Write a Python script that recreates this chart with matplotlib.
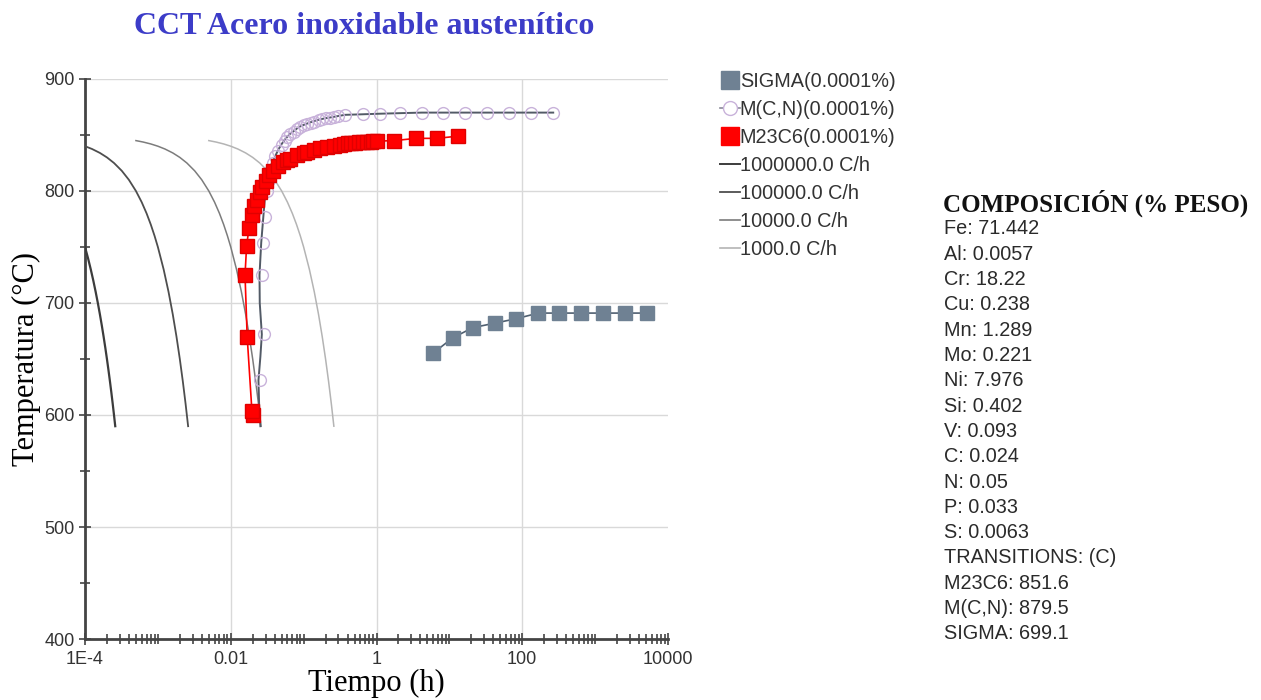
import matplotlib.pyplot as plt
from matplotlib.lines import Line2D
from matplotlib.ticker import FixedLocator, NullFormatter

# Curvas de enfriamiento (tiempo en h, temperatura en C)
t_1e6 = [1.0e-4, 1.1e-4, 1.2e-4, 1.3e-4, 1.4e-4, 1.5e-4, 1.6e-4, 1.7e-4, 1.8e-4,
         1.9e-4, 2.0e-4, 2.1e-4, 2.2e-4, 2.3e-4, 2.4e-4, 2.5e-4, 2.6e-4]
T_1e6 = [750, 740, 730, 720, 710, 700, 690, 680, 670, 660, 650, 640, 630, 620, 610, 600, 590]

t_1e5 = [1.0e-4, 1.25e-4, 1.6e-4, 2.0e-4, 2.5e-4, 3.2e-4, 4.0e-4, 5.0e-4, 6.0e-4, 7.0e-4,
         8.0e-4, 9.0e-4, 1.0e-3, 1.2e-3, 1.4e-3, 1.6e-3, 1.8e-3, 2.0e-3, 2.2e-3, 2.4e-3, 2.6e-3]
T_1e5 = [840, 837.5, 834, 830, 825, 818, 810, 800, 790, 780,
         770, 760, 750, 730, 710, 690, 670, 650, 630, 610, 590]

t_1e4 = [5.0e-4, 6.3e-4, 8.0e-4, 1.0e-3, 1.25e-3, 1.6e-3, 2.0e-3, 2.5e-3, 3.2e-3, 4.0e-3,
         5.0e-3, 6.0e-3, 7.0e-3, 8.0e-3, 9.0e-3, 0.010, 0.012, 0.014, 0.016, 0.018,
         0.020, 0.022, 0.024, 0.026]
T_1e4 = [845, 843.7, 842, 840, 837.5, 834, 830, 825, 818, 810,
         800, 790, 780, 770, 760, 750, 730, 710, 690, 670,
         650, 630, 610, 590]

t_1e3 = [5.0e-3, 6.3e-3, 8.0e-3, 0.010, 0.0125, 0.016, 0.020, 0.025, 0.032, 0.040,
         0.050, 0.060, 0.070, 0.080, 0.090, 0.10, 0.12, 0.14, 0.16, 0.18,
         0.20, 0.22, 0.24, 0.26]
T_1e3 = [845, 843.7, 842, 840, 837.5, 834, 830, 825, 818, 810,
         800, 790, 780, 770, 760, 750, 730, 710, 690, 670,
         650, 630, 610, 590]

# Inicio de precipitacion (0.0001 %)
t_mcn = [0.0255, 0.0245, 0.0240, 0.0255, 0.0267, 0.0250, 0.0248, 0.0262, 0.0280, 0.0300,
         0.032, 0.035, 0.040, 0.045, 0.050, 0.057, 0.065, 0.075, 0.085, 0.10,
         0.12, 0.14, 0.17, 0.20, 0.25, 0.30, 0.37, 0.65, 1.1, 2.1,
         4.2, 8.3, 16.5, 33, 66, 133, 266]
T_mcn = [590, 610, 631, 652, 672, 700, 725, 754, 777, 800,
         812, 822, 830, 837, 842, 847, 851, 854, 857, 859,
         861, 862.5, 864, 865, 866, 867, 868, 868.5, 869, 869.5,
         870, 870, 870, 870, 870, 870, 870]

t_mcn_pts = [0.0255, 0.029, 0.0265, 0.028, 0.0295, 0.031, 0.033, 0.035, 0.038, 0.041,
             0.045, 0.050, 0.055, 0.060, 0.066, 0.073, 0.080, 0.090, 0.10, 0.11,
             0.125, 0.14, 0.16, 0.18, 0.20, 0.23, 0.26, 0.30, 0.37, 0.65,
             1.1, 2.1, 4.2, 8.3, 16.5, 33, 66, 133, 266]
T_mcn_pts = [631, 672, 725, 754, 777, 800, 810, 818, 825, 831,
             836, 841, 845, 848, 851, 853, 855, 857, 859, 860,
             861, 862, 863, 864, 865, 865.5, 866, 867, 868, 868.5,
             869, 869.5, 870, 870, 870, 870, 870, 870, 870]

t_m23 = [0.0205, 0.0195, 0.0168, 0.0157, 0.0165, 0.0178, 0.0195, 0.021, 0.0229, 0.025,
         0.0268, 0.030, 0.033, 0.038, 0.045, 0.052, 0.060, 0.066, 0.080, 0.10,
         0.112, 0.14, 0.17, 0.21, 0.26, 0.32, 0.36, 0.40, 0.45, 0.50,
         0.57, 0.65, 0.73, 0.83, 0.90, 1.0, 1.75, 3.5, 6.8, 13.1]
T_m23 = [600, 604, 670, 725, 751, 767, 779, 787, 792, 799,
         804, 809, 814, 818, 822, 826, 828, 829, 832, 834,
         835, 837, 838, 839.5, 840.5, 841.5, 842, 842.5, 843, 843,
         843.5, 843.5, 844, 844, 844.5, 844.5, 845, 847, 847, 849]

t_sigma = [5.9, 11.2, 21, 42, 83, 166, 320, 643, 1282, 2553, 5186]
T_sigma = [655, 669, 678, 682, 686, 691, 691, 691, 691, 691, 691]

composicion = ["Fe: 71.442", "Al: 0.0057", "Cr: 18.22", "Cu: 0.238", "Mn: 1.289",
               "Mo: 0.221", "Ni: 7.976", "Si: 0.402", "V: 0.093", "C: 0.024",
               "N: 0.05", "P: 0.033", "S: 0.0063", "TRANSITIONS: (C)",
               "M23C6: 851.6", "M(C,N): 879.5", "SIGMA: 699.1"]

x_ticks = [1e-4, 1e-2, 1, 1e2, 1e4]
x_ticklabels = ["1E-4", "0.01", "1", "100", "10000"]
x_grid = [1e-2, 1, 1e2]
y_grid = [500, 600, 700, 800, 900]

serif = "Liberation Serif"
sans = "Liberation Sans"
c_sigma = "#6f8193"
c_red = "#ff0000"
c_lav = "#c8b2da"

fig = plt.figure(figsize=(12.61, 7.0), dpi=100)
ax = fig.add_axes([85 / 1261, 1 - 639 / 700, 583 / 1261, 560 / 700])

# rejilla solo en las decadas con etiqueta
for x in x_grid:
    ax.axvline(x, color="#d9d9d9", lw=1.0, zorder=0)
for y in y_grid:
    ax.axhline(y, color="#d9d9d9", lw=1.0, zorder=0)

ax.plot(t_1e6, T_1e6, color="#3c3c3c", lw=1.6, zorder=3)
ax.plot(t_1e5, T_1e5, color="#4e4e4e", lw=1.3, zorder=3)
ax.plot(t_1e4, T_1e4, color="#7c7c7c", lw=1.1, zorder=3)
ax.plot(t_1e3, T_1e3, color="#b4b4b4", lw=1.1, zorder=3)

ax.plot(t_mcn, T_mcn, color="#525a66", lw=1.4, zorder=4)
ax.plot(t_mcn_pts, T_mcn_pts, ls="none", marker="o", ms=8.5, mfc="none",
        mec=c_lav, mew=1.0, zorder=4)
ax.plot(t_m23, T_m23, color=c_red, lw=1.2, marker="s", ms=9.8, mfc=c_red,
        mec="#e00000", zorder=5)
ax.plot(t_sigma, T_sigma, color="#4f5f70", lw=1.2, marker="s", ms=10,
        mfc=c_sigma, mec=c_sigma, zorder=5)

ax.set_xscale("log")
ax.set_xlim(1e-4, 1e4)
ax.set_ylim(400, 900)

ax.xaxis.set_major_locator(FixedLocator(x_ticks))
ax.set_xticklabels(x_ticklabels)
minor_x = [m * 10.0 ** e for e in range(-4, 4) for m in range(1, 10) if not (m == 1 and e % 2 == 0)]
ax.xaxis.set_minor_locator(FixedLocator(minor_x))
ax.xaxis.set_minor_formatter(NullFormatter())
ax.set_yticks([400, 500, 600, 700, 800, 900])
ax.set_yticks([450, 550, 650, 750, 850], minor=True)

ax.tick_params(axis="both", which="both", direction="inout", color="#444444",
               width=1.2, labelsize=13, labelcolor="#333333")
ax.tick_params(axis="both", which="major", length=8)
ax.tick_params(axis="both", which="minor", length=7)
ax.tick_params(axis="x", which="major", pad=5)
for lbl in ax.get_xticklabels() + ax.get_yticklabels():
    lbl.set_fontfamily(sans)

for side in ["top", "right"]:
    ax.spines[side].set_visible(False)
for side in ["left", "bottom"]:
    ax.spines[side].set_color("#444444")
    ax.spines[side].set_linewidth(2)

ax.set_xlabel("Tiempo (h)", fontsize=22, family=serif, labelpad=0)
ax.set_ylabel("Temperatura (°C)", fontsize=22, family=serif, labelpad=2)

fig.text(0.289, 0.962, "CCT Acero inoxidable austenítico", fontsize=23,
         family=serif, weight="bold", color="#3c3cc8", ha="center", va="center")

handles = [
    Line2D([], [], ls="none", marker="s", ms=13, mfc=c_sigma, mec=c_sigma),
    Line2D([], [], color="#8a8a98", lw=1.2, marker="o", ms=10, mfc="white", mec=c_lav),
    Line2D([], [], ls="none", marker="s", ms=13, mfc=c_red, mec=c_red),
    Line2D([], [], color="#3c3c3c", lw=1.4),
    Line2D([], [], color="#4e4e4e", lw=1.3),
    Line2D([], [], color="#7c7c7c", lw=1.2),
    Line2D([], [], color="#b4b4b4", lw=1.2),
]
labels = ["SIGMA(0.0001%)", "M(C,N)(0.0001%)", "M23C6(0.0001%)",
          "1000000.0 C/h", "100000.0 C/h", "10000.0 C/h", "1000.0 C/h"]
fig.legend(handles, labels, loc="upper left", bbox_to_anchor=(710 / 1261, 1 - 62 / 700),
           frameon=False, handlelength=1.0, handletextpad=0.0, labelspacing=0.45,
           borderpad=0, prop={"family": sans, "size": 14.3}, labelcolor="#333333")

fig.text(943 / 1261, 1 - 203 / 700, "COMPOSICIÓN (% PESO)", fontsize=18,
         family=serif, weight="bold", color="#111111", ha="left", va="center")
for i, linea in enumerate(composicion):
    fig.text(944 / 1261, 1 - (229 + i * 25.3) / 700, linea, fontsize=14.3,
             family=sans, color="#2a2a2a", ha="left", va="center")

fig.savefig("out.png", dpi=100)
